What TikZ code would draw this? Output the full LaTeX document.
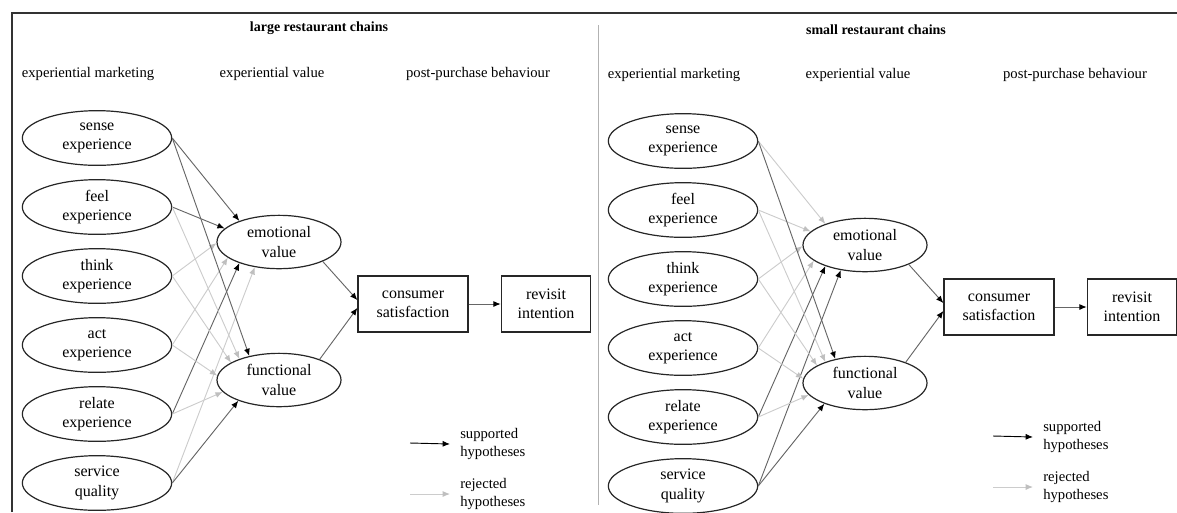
\documentclass[tikz,border=0pt]{standalone}
\usepackage{fontspec}
\setmainfont{Liberation Serif}
\usetikzlibrary{arrows.meta, shapes.geometric, positioning}
\tikzset{
  % costrutti del modello
  construct/.style={ellipse,draw=black!85,line width=0.9pt,inner sep=0pt,
    minimum width=112pt,minimum height=41pt,align=center,
    font=\fontsize{12}{14.5}\selectfont},
  value/.style={construct,minimum width=93pt,minimum height=40pt},
  outcome/.style={rectangle,draw=black!85,line width=0.9pt,inner sep=0pt,
    minimum height=42pt,align=center,font=\fontsize{12}{14.5}\selectfont},
  group title/.style={font=\bfseries\fontsize{10.5}{13}\selectfont},
  column head/.style={font=\fontsize{11}{13}\selectfont},
  legend text/.style={anchor=west,align=left,inner xsep=7.5pt,
    font=\fontsize{11}{13.5}\selectfont},
  % ipotesi
  hyp sup/.style={draw=black!60,line width=0.7pt,-{Latex[length=5.5pt,width=4.5pt,black]}},
  hyp rej/.style={draw=black!20,line width=0.7pt,-{Latex[length=5.5pt,width=4.5pt,black!25]}}
}
\begin{document}
\begin{tikzpicture}[x=0.75pt,y=-0.75pt]
  \useasboundingbox (0,0) rectangle (1177,512);
  \draw[black!80,line width=1.1pt] (12,512) -- (12,13) -- (1177,13);
  \draw[black!30,line width=0.6pt] (598,25) -- (598,505);
  \node[group title] (Ltitle) at (319,28) {large restaurant chains};
  \node[group title] (Stitle) at (876,30) {small restaurant chains};
  \foreach \p/\px/\py/\qx in {L/0/74/478, S/586/75/1075}{
    \node[column head] (\p market) at (88+\px,\py) {experiential marketing};
    \node[column head] (\p value) at (272+\px,\py) {experiential value};
    \node[column head] (\p post) at (\qx,\py) {post-purchase behaviour};
  }
  \foreach \p/\dx/\dy in {L/0/0, S/586/3}{
    \foreach \nm/\txt/\py in {sense/sense\\experience/138, feel/feel\\experience/207,
                              think/think\\experience/276, act/act\\experience/345,
                              relate/relate\\experience/414, service/service\\quality/483}
      \node[construct] (\p\nm) at (97+\dx,\py+\dy) {\txt};
    \node[value] (\p emo) at (279+\dx,242+\dy) {emotional\\value};
    \node[value] (\p func) at (279+\dx,380+\dy) {functional\\value};
    \node[outcome,minimum width=82.5pt] (\p cs) at (413+\dx,304+\dy) {consumer\\satisfaction};
    \node[outcome,minimum width=67pt] (\p ri) at (546+\dx,304+\dy) {revisit\\intention};
    \draw[hyp sup] (\p emo.336) -- (\p cs.176);
    \draw[hyp sup] (\p func.27) -- (\p cs.184);
    \draw[hyp sup] (\p cs) -- (\p ri);
  }
  % large restaurant chains
  \foreach \src/\ang/\hyp in {think/181/rej, act/197/rej, service/226/rej,
                              sense/152/sup, feel/166/sup, relate/208/sup}
    \draw[hyp \hyp] (L\src.east) -- (Lemo.\ang);
  \foreach \src/\ang/\hyp in {feel/152/rej, think/160/rej, act/176/rej, relate/192/rej,
                              sense/141/sup, service/207/sup}
    \draw[hyp \hyp] (L\src.east) -- (Lfunc.\ang);
  % small restaurant chains
  \foreach \src/\ang/\hyp in {sense/152/rej, feel/166/rej, think/181/rej, act/197/rej,
                              relate/208/sup, service/226/sup}
    \draw[hyp \hyp] (S\src.east) -- (Semo.\ang);
  \foreach \src/\ang/\hyp in {feel/152/rej, think/160/rej, act/176/rej, relate/192/rej,
                              sense/141/sup, service/207/sup}
    \draw[hyp \hyp] (S\src.east) -- (Sfunc.\ang);
  % legenda
  \foreach \p/\lx/\sy/\ry in {L/410/443/494, S/993/436/487}{
    \coordinate (\p supfrom) at (\lx,\sy);
    \coordinate (\p rejfrom) at (\lx,\ry);
    \node[legend text] (\p sup) at (\lx+40,\sy+1) {supported\\hypotheses};
    \node[legend text] (\p rej) at (\lx+40,\ry) {rejected\\hypotheses};
    \draw[hyp sup,draw=black] (\p supfrom) -- (\p sup.west);
    \draw[hyp rej] (\p rejfrom) -- (\p rej.west);
  }
\end{tikzpicture}
\end{document}
